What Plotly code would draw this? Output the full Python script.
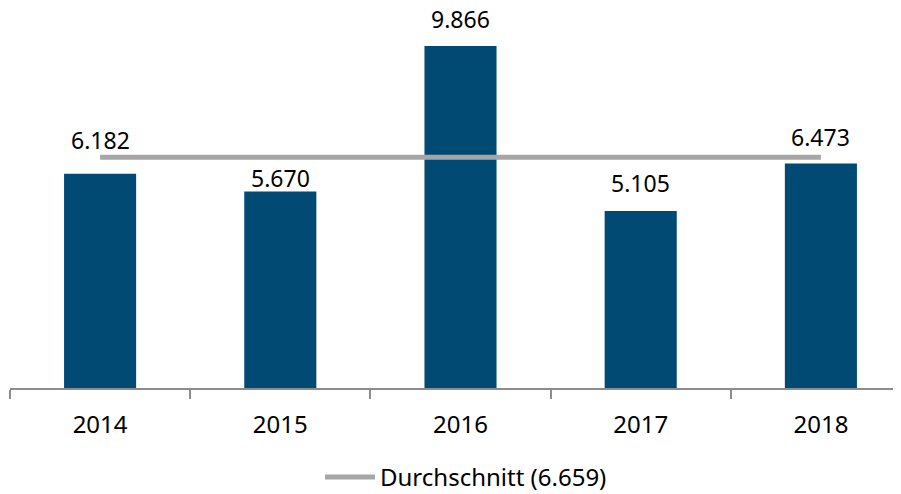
import plotly.graph_objects as go

years = ["2014", "2015", "2016", "2017", "2018"]
values = [6.182, 5.670, 9.866, 5.105, 6.473]
labels = ["6.182", "5.670", "9.866", "5.105", "6.473"]
average = 6.659
avg_label = "Durchschnitt (6.659)"

label_shift = [16, -5, 9, 10, 9]

FONT = "Noto Sans"
OFF = 8  # page body margin
W, H = 901 - OFF, 494 - OFF
plot_bottom = 388.5 - OFF
L = 10 - OFF

fig = go.Figure()
fig.add_trace(go.Bar(
    x=years, y=values, width=0.4,
    marker=dict(color="#004a74", line=dict(width=0)),
    showlegend=False, hoverinfo="skip",
))
fig.add_trace(go.Scatter(
    x=[years[0], years[-1]], y=[average, average], mode="lines",
    line=dict(color="#a6a6a6", width=5),
    name=avg_label, showlegend=True, hoverinfo="skip",
))

for i, (v, t, s) in enumerate(zip(values, labels, label_shift)):
    fig.add_annotation(x=i, y=v, xref="x", yref="y", text=t, showarrow=False,
                       yanchor="bottom", yshift=s,
                       font=dict(family=FONT, size=23, color="#000000"))

cat_px = 180.2
xmax = -0.5 + (W - L) / cat_px
ymax = plot_bottom / ((388.5 - 46) / 9.866)

fig.update_layout(
    width=W, height=H,
    margin=dict(l=L, r=0, t=0, b=H - plot_bottom, autoexpand=False),
    plot_bgcolor="white", paper_bgcolor="white",
    bargap=0.6,
    font=dict(family=FONT, size=24, color="#000000"),
    xaxis=dict(type="category", range=[-0.5, xmax], tickson="boundaries",
               ticks="outside", ticklen=9, tickcolor="#8c8c8c", tickwidth=1.5,
               ticklabelstandoff=14,
               showline=True, linecolor="#8c8c8c", linewidth=1.5, automargin=False,
               showgrid=False, tickfont=dict(family=FONT, size=24, color="#000000"),
               fixedrange=True),
    yaxis=dict(range=[0, ymax], visible=False, showgrid=False, fixedrange=True,
               automargin=False),
    legend=dict(orientation="h", x=(466 - 10) / (W - L), xanchor="center",
                y=(plot_bottom - (478 - OFF)) / plot_bottom, yanchor="middle",
                itemwidth=50,
                font=dict(family=FONT, size=24, color="#000000"),
                bgcolor="rgba(0,0,0,0)"),
)

fig.write_html("out.html")
